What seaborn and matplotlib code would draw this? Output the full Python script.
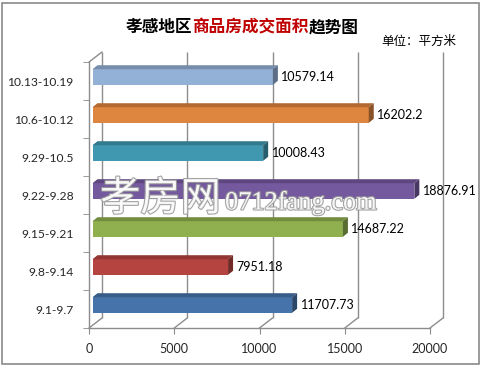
import numpy as np
import pandas as pd
import matplotlib
matplotlib.use("Agg")
import matplotlib.pyplot as plt
import matplotlib.colors as mcolors
import matplotlib.patheffects as pe
from matplotlib.patches import Polygon, Rectangle
from matplotlib.transforms import offset_copy
import seaborn as sns

# data (top to bottom)
weeks = ['10.13-10.19', '10.6-10.12', '9.29-10.5', '9.22-9.28', '9.15-9.21', '9.8-9.14', '9.1-9.7']
area = [10579.14, 16202.2, 10008.43, 18876.91, 14687.22, 7951.18, 11707.73]
bar_colors = ['#93B1D6', '#DE853F', '#3F98B0', '#74599E', '#90B050', '#B5433F', '#4673AA']
xticks = [0, 5000, 10000, 15000, 20000]
value_labels = ['10579.14', '16202.2', '10008.43', '18876.91', '14687.22', '7951.18', '11707.73']

sns.set_style("white")
plt.rcParams['font.family'] = ['Lato', 'Noto Sans CJK SC', 'DejaVu Sans']

W, H = 482, 366
fig = plt.figure(figsize=(W / 100, H / 100), dpi=100)
fig.set_facecolor('white')

# front plane of the 3D box in pixels
px_l, px_r, px_t, px_b = 89, 430, 62, 328
ax = fig.add_axes([px_l / W, 1 - px_b / H, (px_r - px_l) / W, (px_b - px_t) / H])

df = pd.DataFrame({'week': weeks, 'area': area})
sns.barplot(data=df, x='area', y='week', hue='week', palette=bar_colors,
            orient='h', width=0.41, legend=False, saturation=1, ax=ax)

ax.set_xlim(0, 20000)
ax.set_ylim(6.5, -0.5)
ax.set_xlabel('')
ax.set_ylabel('')

# pixel -> data conversions for the 3D look
dpx_x = 20000 / (px_r - px_l)
dpx_y = 7 / (px_b - px_t)
grid_c = '#8C8C8C'
back_dx, back_dy = 13, 10

# back wall gridlines
back = offset_copy(ax.transData, fig=fig, x=back_dx, y=back_dy, units='dots')
ax.vlines(xticks, -0.5, 6.5, colors=grid_c, lw=1, transform=back, clip_on=False, zorder=0)
# floor diagonals
for t in xticks:
    ax.plot([t, t + back_dx * dpx_x], [6.5, 6.5 - back_dy * dpx_y], color=grid_c, lw=1,
            clip_on=False, zorder=0)
# top of left wall
ax.plot([0, back_dx * dpx_x], [-0.5, -0.5 - back_dy * dpx_y], color=grid_c, lw=1,
        clip_on=False, zorder=0)

# bars: shift into the box and add top / side faces
bar_off = offset_copy(ax.transData, fig=fig, x=3.5, y=4, units='dots')
ddx, ddy = 5 * dpx_x, 4 * dpx_y
for p in ax.patches:
    x0, y0, w, h = p.get_x(), p.get_y(), p.get_width(), p.get_height()
    p.set_transform(bar_off)
    p.set_zorder(3)
    p.set_edgecolor('none')
    base = np.array(mcolors.to_rgb(p.get_facecolor()))
    top = Polygon([(x0, y0), (x0 + w, y0), (x0 + w + ddx, y0 - ddy), (x0 + ddx, y0 - ddy)],
                  closed=True, facecolor=base * 0.8, edgecolor='none',
                  transform=bar_off, zorder=3, clip_on=False)
    side = Polygon([(x0 + w, y0), (x0 + w, y0 + h), (x0 + w + ddx, y0 + h - ddy),
                    (x0 + w + ddx, y0 - ddy)],
                   closed=True, facecolor=base * 0.62, edgecolor='none',
                   transform=bar_off, zorder=3, clip_on=False)
    ax.add_patch(top)
    ax.add_patch(side)

for i, (v, lab) in enumerate(zip(area, value_labels)):
    ax.annotate(lab, (v, i), xytext=(12, 4), textcoords='offset pixels',
                va='center', ha='left', fontsize=9, color='black', zorder=5)

# axes styling
for s in ['top', 'right']:
    ax.spines[s].set_visible(False)
for s in ['left', 'bottom']:
    ax.spines[s].set_color(grid_c)
    ax.spines[s].set_linewidth(1)
ax.set_xticks(xticks)
ax.set_xticklabels([str(t) for t in xticks])
ax.set_yticks(range(len(weeks)))
ax.set_yticks(np.arange(-0.5, 7, 1), minor=True)
ax.tick_params(axis='x', which='major', length=4, color=grid_c, direction='out',
               pad=7, labelsize=9, bottom=True)
ax.tick_params(axis='y', which='major', length=0, pad=11, labelsize=8.7)
ax.tick_params(axis='y', which='minor', length=4, color=grid_c, direction='out', left=True)
ax.grid(False)
ax.set_facecolor('none')

# watermark
halo = [pe.withStroke(linewidth=1.6, foreground='#9A9A9A')]
fig.text(100 / W, 1 - 199 / H, '孝房网', fontsize=29, color='white', alpha=0.9,
         family=['Noto Sans CJK SC'], va='center', ha='left', path_effects=halo, zorder=10)
fig.text(225 / W, 1 - 203 / H, '0712fang.com', fontsize=19, color='white', alpha=0.9,
         family=['Liberation Serif'], va='center', ha='left', path_effects=halo, zorder=10)

# title in three colour runs, chained by measured width
renderer = fig.canvas.get_renderer()
parts = [('孝感地区', 'black'), ('商品房成交面积', '#C00000'), ('趋势图', 'black')]
texts = []
for s, c in parts:
    texts.append(fig.text(0, 1 - 27 / H, s, fontsize=12, fontweight='bold', color=c,
                          family=['Noto Sans CJK SC'], va='center', ha='left'))
widths = [t.get_window_extent(renderer).width for t in texts]
x = 242 - sum(widths) / 2
for t, w in zip(texts, widths):
    t.set_x(x / W)
    x += w
fig.text(381 / W, 1 - 41 / H, '单位：平方米', fontsize=9, color='black',
         family=['Noto Sans CJK SC'], va='center', ha='left')

# outer frame
fig.patches.append(Rectangle((2 / W, 2 / H), 477 / W, 361 / H, fill=False,
                             edgecolor='#8A8A8A', lw=1.2, transform=fig.transFigure))

fig.savefig('out.png', dpi=100)
